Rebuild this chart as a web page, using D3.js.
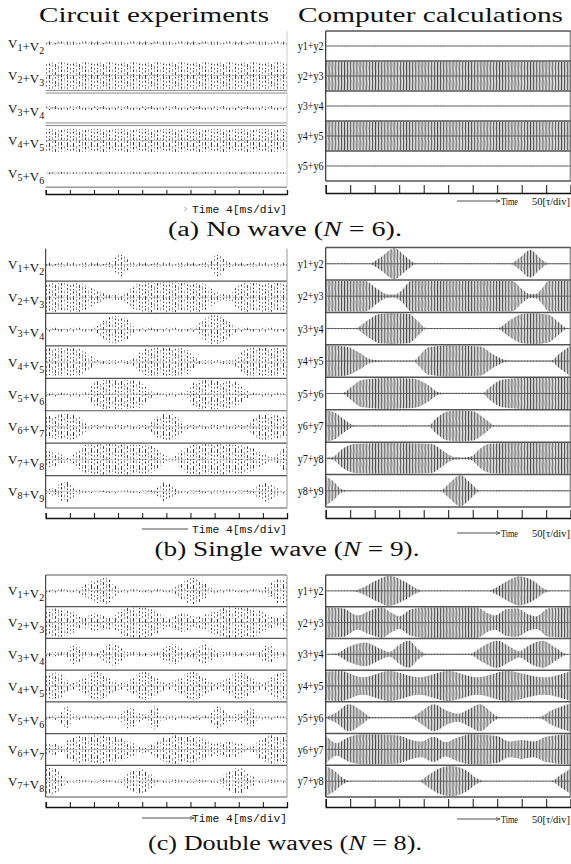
<!DOCTYPE html>
<html><head><meta charset="utf-8">
<script src="https://cdn.jsdelivr.net/npm/d3@7"></script>
<style>
body{margin:0;background:#fff}svg{display:block}
.serif{font-family:'Liberation Serif','Times New Roman',serif}
.mono{font-family:'Liberation Mono','Courier New',monospace}
</style>
</head><body>
<script>
// ---------------- DATA ----------------
const ticks = d3.range(0, 11); // 10 divisions per trace
const titles = ["Circuit experiments", "Computer calculations"];
const captions = [["(a) No wave (", "N", " = 6)."], ["(b) Single wave (", "N", " = 9)."], ["(c) Double waves (", "N", " = 8)."]];
const timeCirc = "Time 4[ms/div]";
const timeCalc = ["Time", "50[τ/div]"];

const labelsA_circ = ["V1+V2","V2+V3","V3+V4","V4+V5","V5+V6"];
const labelsA_calc = ["y1+y2","y2+y3","y3+y4","y4+y5","y5+y6"];
const labelsB_circ = ["V1+V2","V2+V3","V3+V4","V4+V5","V5+V6","V6+V7","V7+V8","V8+V9"];
const labelsB_calc = ["y1+y2","y2+y3","y3+y4","y4+y5","y5+y6","y6+y7","y7+y8","y8+y9"];
const labelsC_circ = ["V1+V2","V2+V3","V3+V4","V4+V5","V5+V6","V6+V7","V7+V8"];
const labelsC_calc = ["y1+y2","y2+y3","y3+y4","y4+y5","y5+y6","y6+y7","y7+y8"];

// envelopes: [time in div, amplitude as fraction of half row height]
const envA_circ = [
  [[0,.1],[10,.1]],
  [[0,.82],[10,.82]],
  [[0,.12],[10,.12]],
  [[0,.7],[10,.7]],
  [[0,.08],[10,.08]]
];
const envA_calc = [
  [[0,.02],[10,.02]],
  [[0,.95],[10,.95]],
  [[0,.02],[10,.02]],
  [[0,.95],[10,.95]],
  [[0,.02],[10,.02]]
];
const envB_circ = [
  [[0,.12],[2.6,.12],[2.85,.4],[3.1,.75],[3.35,.4],[3.55,.12],[6.6,.12],[6.9,.4],[7.15,.75],[7.4,.4],[7.65,.12],[10,.12]],
  [[0,.9],[1.4,.9],[1.9,.55],[2.5,.2],[2.9,.15],[3.3,.3],[3.8,.85],[4.2,.92],[6.4,.9],[6.9,.5],[7.3,.2],[7.6,.2],[7.9,.6],[8.2,.9],[10,.9]],
  [[0,.12],[2.0,.12],[2.4,.55],[2.8,.85],[3.3,.7],[3.75,.12],[6.1,.12],[6.5,.55],[6.95,.9],[7.5,.6],[8.0,.12],[10,.12]],
  [[0,.85],[1.3,.85],[1.8,.45],[2.2,.12],[3.5,.12],[3.9,.6],[4.3,.88],[5.7,.85],[6.1,.45],[6.5,.12],[7.7,.12],[8.1,.6],[8.4,.88],[10,.85]],
  [[0,.12],[1.6,.12],[2.1,.8],[2.5,.9],[3.8,.85],[4.2,.4],[4.5,.12],[5.8,.12],[6.2,.8],[6.6,.9],[7.8,.8],[8.2,.4],[8.5,.12],[10,.12]],
  [[0,.6],[0.4,.75],[0.9,.8],[1.4,.6],[1.85,.12],[4.2,.12],[4.6,.6],[5.0,.85],[5.4,.7],[5.85,.12],[8.3,.12],[8.7,.65],[9.1,.8],[9.6,.7],[10,.6]],
  [[0,.5],[0.5,.4],[1.0,.15],[1.3,.5],[1.7,.9],[2.5,.95],[4.3,.85],[4.8,.4],[5.25,.12],[5.6,.5],[6.0,.9],[7,.95],[8.4,.8],[9.0,.35],[9.4,.12],[9.8,.6],[10,.8]],
  [[0,.1],[0.4,.3],[0.85,.65],[1.3,.15],[1.6,.08],[4.5,.1],[4.7,.35],[4.95,.6],[5.3,.3],[5.6,.1],[8.5,.1],[8.8,.4],[9.1,.6],[9.5,.3],[9.8,.1],[10,.1]]
];
const envB_calc = [
  [[0,.03],[1.8,.03],[2.2,.35],[2.8,.95],[3.3,.4],[3.7,.03],[7.55,.03],[7.9,.35],[8.35,.85],[8.75,.35],[9.1,.03],[10,.03]],
  [[0,.95],[1.6,.95],[2.1,.45],[2.5,.12],[2.8,.1],[3.1,.35],[3.5,.95],[7.6,.95],[8.0,.45],[8.35,.12],[8.6,.15],[8.85,.5],[9.1,.95],[10,.95]],
  [[0,.03],[1.2,.03],[1.7,.5],[2.2,.9],[2.7,.95],[3.4,.9],[3.8,.4],[4.1,.03],[7.0,.03],[7.5,.5],[8.0,.9],[8.5,.95],[9.1,.85],[9.5,.4],[9.85,.03],[10,.03]],
  [[0,.95],[0.8,.9],[1.4,.5],[1.85,.1],[2.3,.04],[3.6,.04],[3.8,.3],[4.2,.85],[5.0,.95],[6.3,.9],[6.8,.45],[7.3,.08],[7.6,.04],[9.2,.04],[9.5,.4],[10,.95]],
  [[0,.03],[0.7,.03],[1.0,.35],[1.5,.85],[2.5,.95],[3.6,.9],[4.2,.5],[4.6,.08],[4.9,.04],[6.4,.04],[6.7,.4],[7.2,.85],[8.0,.95],[10,.95]],
  [[0,.95],[0.4,.8],[0.8,.35],[1.2,.03],[4.2,.03],[4.5,.45],[5.0,.9],[5.5,.95],[6.0,.9],[6.5,.45],[6.9,.03],[10,.03]],
  [[0,.04],[0.3,.1],[0.7,.6],[1.2,.9],[2.5,.95],[4.3,.9],[4.8,.45],[5.2,.1],[5.6,.05],[5.95,.12],[6.3,.6],[6.7,.9],[8,.95],[10,.95]],
  [[0,.9],[0.3,.6],[0.65,.1],[0.9,.03],[4.7,.03],[5.0,.4],[5.5,.95],[5.9,.5],[6.3,.03],[10,.03]]
];
const envC_circ = [
  [[0,.1],[1.3,.1],[1.7,.45],[2.2,.8],[2.5,.85],[2.9,.3],[3.1,.1],[5.2,.1],[5.6,.5],[6.1,.85],[6.5,.6],[6.9,.15],[7.2,.1],[8.9,.1],[9.3,.45],[9.7,.8],[10,.7]],
  [[0,.8],[0.6,.9],[1.2,.6],[1.5,.3],[2.0,.6],[2.5,.4],[2.8,.4],[3.2,.9],[4.0,.95],[4.6,.7],[5.1,.3],[5.7,.6],[6.3,.35],[6.7,.55],[7.5,.95],[8.6,.9],[9.2,.5],[9.5,.3],[10,.7]],
  [[0,.12],[0.8,.15],[1.2,.65],[1.7,.15],[2.1,.12],[2.3,.3],[2.85,.75],[3.4,.15],[4.6,.12],[4.9,.4],[5.3,.65],[5.8,.25],[6.15,.3],[6.65,.65],[7.2,.15],[8.7,.12],[9.2,.6],[9.7,.15],[10,.12]],
  [[0,.7],[0.45,.85],[1.1,.2],[2.1,.9],[3.2,.2],[4.05,.9],[5.1,.2],[6.1,.9],[7.1,.2],[8.0,.85],[9.0,.2],[9.7,.85],[10,.8]],
  [[0,.12],[0.5,.15],[0.85,.7],[1.2,.15],[3.0,.12],[3.45,.7],[3.9,.25],[4.15,.2],[4.5,.75],[4.9,.15],[6.7,.15],[7.15,.7],[7.6,.2],[8.05,.25],[8.5,.65],[8.9,.12],[10,.12]],
  [[0,.3],[0.4,.35],[0.7,.2],[1.0,.7],[1.9,.9],[3.0,.75],[3.7,.35],[4.2,.2],[4.8,.7],[5.4,.9],[6.4,.75],[7.0,.4],[7.6,.5],[8.0,.45],[8.4,.15],[8.8,.5],[9.4,.9],[10,.85]],
  [[0,.8],[0.35,.85],[0.7,.35],[1.0,.08],[3.1,.1],[3.4,.45],[3.9,.8],[4.4,.4],[4.7,.1],[7.1,.1],[7.5,.5],[8.0,.85],[8.5,.4],[8.8,.1],[10,.1]]
];
const envC_calc = [
  [[0,.02],[1.1,.02],[1.5,.2],[2.0,.6],[2.6,.95],[3.2,.6],[3.7,.15],[4.0,.02],[6.6,.02],[7.0,.25],[7.5,.7],[7.9,.92],[8.5,.6],[8.9,.15],[9.2,.02],[10,.02]],
  [[0,.95],[0.7,.9],[1.3,.45],[1.8,.75],[2.3,.95],[2.7,.6],[3.0,.4],[3.5,.85],[4.0,.95],[6.2,.95],[6.6,.6],[6.9,.45],[7.4,.85],[7.8,.9],[8.3,.5],[8.6,.4],[9.1,.9],[10,.95]],
  [[0,.02],[0.4,.05],[0.9,.45],[1.6,.75],[2.3,.3],[2.6,.15],[3.0,.6],[3.4,.85],[3.8,.3],[4.1,.04],[5.9,.04],[6.3,.4],[7.0,.85],[7.6,.4],[7.9,.2],[8.3,.55],[8.85,.85],[9.4,.4],[9.8,.04],[10,.02]],
  [[0,.9],[0.6,.95],[1.5,.55],[2.6,.95],[3.8,.55],[5.0,.95],[6.2,.55],[7.4,.95],[8.9,.55],[10,.95]],
  [[0,.04],[0.4,.3],[0.95,.85],[1.5,.4],[1.85,.04],[3.5,.04],[3.9,.4],[4.4,.85],[5.0,.4],[5.4,.25],[5.8,.5],[6.3,.85],[6.8,.3],[7.1,.04],[8.7,.04],[9.2,.45],[10,.9]],
  [[0,.9],[0.2,.6],[0.45,.4],[0.9,.75],[1.6,.95],[2.9,.9],[3.5,.6],[3.9,.5],[4.4,.8],[4.9,.45],[5.3,.7],[6.0,.95],[7.0,.85],[7.5,.5],[8.0,.6],[8.5,.5],[9.0,.8],[10,.95]],
  [[0,.95],[0.3,.7],[0.75,.15],[1.0,.02],[3.8,.02],[4.2,.4],[4.7,.85],[5.1,.95],[5.7,.7],[6.2,.15],[6.5,.02],[9.2,.02],[9.6,.4],[10,.8]]
];

// ---------------- DRAW ----------------
const svg = d3.select("body").append("svg").attr("width", 571).attr("height", 864);
const defs = svg.append("defs");

// texture of simulated traces (dense oscillation)
const pc = defs.append("pattern").attr("id","hatchCalc").attr("patternUnits","userSpaceOnUse")
  .attr("width",3.1).attr("height",10);
pc.append("rect").attr("width",3.1).attr("height",10).attr("fill","#e2e2e2");
pc.append("line").attr("x1",1.3).attr("y1",0).attr("x2",2.9).attr("y2",10).attr("stroke","#a8a8a8").attr("stroke-width",0.6);
pc.append("line").attr("x1",0.5).attr("x2",0.5).attr("y1",0).attr("y2",10).attr("stroke","#333").attr("stroke-width",0.8);

// texture of oscilloscope traces (sparse dashes)
const pe = defs.append("pattern").attr("id","hatchCirc").attr("patternUnits","userSpaceOnUse")
  .attr("width",24).attr("height",17);
[[1.5,"#222","4,1.5,2,2.5",0,0.9],[4.5,"#888","2,3,3,1",1,0.8],[7.5,"#333","3,2,1.5,2.5",2,0.9],[10.5,"#777","1.5,2,4,1",3,0.8],
 [13.5,"#222","2.5,2,3.5,1.5",5,0.9],[16.5,"#999","3,1.5,1,3",4,0.8],[19.5,"#333","5,1.5,1.5,2",1,0.9],[22.5,"#666","2,2,2,3",6,0.8]]
  .forEach(([x,c,da,off,w]) => pe.append("line").attr("x1",x).attr("x2",x).attr("y1",-3).attr("y2",20)
    .attr("stroke",c).attr("stroke-width",w).attr("stroke-dasharray",da).attr("stroke-dashoffset",off));

const panels = [
  {labels:labelsA_circ, env:envA_circ, kind:"circ", x0:45.7, x1:287, point:true, yr:[43,173], axisY:194, tick:4, frame:"a"},
  {labels:labelsA_calc, env:envA_calc, kind:"calc", x0:325.7, x1:570.7, yr:[31,181], axisY:193, tick:8},
  {labels:labelsB_circ, env:envB_circ, kind:"circ", x0:45.7, x1:287, yr:[248.6,508], axisY:518, tick:5},
  {labels:labelsB_calc, env:envB_calc, kind:"calc", x0:325.7, x1:570.7, yr:[247.5,507], axisY:518, tick:8},
  {labels:labelsC_circ, env:envC_circ, kind:"circ", x0:45.7, x1:287, yr:[575,797], axisY:807, tick:5, topLine:true},
  {labels:labelsC_calc, env:envC_calc, kind:"calc", x0:325.7, x1:570.7, yr:[575,797], axisY:807, tick:8}
];

function drawLabel(g, lab, x, y, kind) {
  if (kind === "circ") {
    const t = g.append("text").attr("class","serif").attr("x", x).attr("y", y).attr("dy","0.35em").attr("text-anchor","end")
      .attr("font-size",13).attr("fill","#111");
    lab.split("+").forEach((p, i) => {
      if (i > 0) t.append("tspan").text("+");
      t.append("tspan").text(p[0]);
      t.append("tspan").attr("font-size",10).attr("dy",3).text(p.slice(1));
      t.append("tspan").attr("dy",-3).text("");
    });
  } else {
    g.append("text").attr("class","serif").attr("x", x).attr("y", y).attr("dy","0.35em").attr("text-anchor","end")
      .attr("font-size",12).attr("fill","#111")
      .attr("textLength",26).attr("lengthAdjust","spacingAndGlyphs").text(lab);
  }
}

panels.forEach(cfg => {
  const g = svg.append("g");
  const x = d3.scaleLinear().domain([0, 10]).range([cfg.x0, cfg.x1]);
  let yc, half, bounds = [];
  if (cfg.point) {
    const s = d3.scalePoint().domain(cfg.labels).range(cfg.yr);
    yc = l => s(l); half = s.step() / 2;
  } else {
    const s = d3.scaleBand().domain(cfg.labels).range(cfg.yr);
    yc = l => s(l) + s.bandwidth() / 2; half = s.bandwidth() / 2;
    bounds = cfg.labels.map(l => s(l)).concat([cfg.yr[1]]);
  }
  // traces
  cfg.labels.forEach((lab, i) => {
    const c = yc(lab);
    const area = d3.area().curve(d3.curveMonotoneX)
      .x(d => x(d[0])).y0(d => c - d[1] * half).y1(d => c + d[1] * half);
    g.append("path").attr("d", area(cfg.env[i]))
      .attr("fill", cfg.kind === "calc" ? "url(#hatchCalc)" : "url(#hatchCirc)");
    if (cfg.kind === "calc") {
      g.append("line").attr("x1",cfg.x0+1).attr("x2",cfg.x1-1).attr("y1",c).attr("y2",c)
        .attr("stroke","#444").attr("stroke-width",0.7);
    } else {
      g.append("line").attr("x1",cfg.x0+1).attr("x2",cfg.x1-1).attr("y1",c).attr("y2",c)
        .attr("stroke","#999").attr("stroke-width",0.9).attr("stroke-dasharray","2,1.2");
    }
    drawLabel(g, lab, cfg.kind === "calc" ? cfg.x0 - 2 : cfg.x0 - 1.5, c, cfg.kind);
  });
  // frames
  if (cfg.kind === "calc") {
    bounds.forEach(b => g.append("line").attr("x1",cfg.x0).attr("x2",cfg.x1).attr("y1",b).attr("y2",b)
      .attr("stroke","#555").attr("stroke-width",1.5));
    g.append("line").attr("x1",cfg.x0).attr("x2",cfg.x0).attr("y1",cfg.yr[0]).attr("y2",cfg.yr[1]).attr("stroke","#333").attr("stroke-width",1.2);
    g.append("line").attr("x1",cfg.x1-0.5).attr("x2",cfg.x1-0.5).attr("y1",cfg.yr[0]).attr("y2",cfg.yr[1]).attr("stroke","#666").attr("stroke-width",1);
  } else if (cfg.frame === "a") {
    [1, 2].forEach(i => {
      const m = (yc(cfg.labels[i]) + yc(cfg.labels[i+1])) / 2;
      [-1.3, 1.3].forEach(o => g.append("line").attr("x1",cfg.x0).attr("x2",cfg.x1).attr("y1",m+o).attr("y2",m+o)
        .attr("stroke","#888").attr("stroke-width",1));
    });
    const bl = cfg.yr[1] + half - 2;
    g.append("line").attr("x1",cfg.x0).attr("x2",cfg.x1).attr("y1",bl).attr("y2",bl).attr("stroke","#999").attr("stroke-width",1.3);
    g.append("line").attr("x1",cfg.x1).attr("x2",cfg.x1).attr("y1",cfg.yr[0]-12).attr("y2",bl).attr("stroke","#ccc").attr("stroke-width",1);
  } else {
    (cfg.topLine ? bounds : bounds.slice(1)).forEach(b => g.append("line").attr("x1",cfg.x0).attr("x2",cfg.x1).attr("y1",b).attr("y2",b)
      .attr("stroke","#555").attr("stroke-width",1.2));
    g.append("line").attr("x1",cfg.x0).attr("x2",cfg.x0).attr("y1",cfg.yr[0]).attr("y2",cfg.yr[1]).attr("stroke","#222").attr("stroke-width",1);
    g.append("line").attr("x1",cfg.x1).attr("x2",cfg.x1).attr("y1",cfg.yr[0]).attr("y2",cfg.yr[1]).attr("stroke","#999").attr("stroke-width",1);
  }
  // time axis
  const ax = d3.axisTop(x).tickValues(ticks).tickSize(cfg.tick).tickSizeOuter(cfg.tick).tickFormat("");
  const ga = svg.append("g").attr("transform", `translate(0,${cfg.axisY})`).call(ax);
  ga.select(".domain").attr("stroke","#111").attr("stroke-width",1.3);
  ga.selectAll(".tick line").attr("stroke","#111").attr("stroke-width",1);
});

// time labels
defs.append("marker").attr("id","arr").attr("viewBox","0 0 6 6").attr("refX",6).attr("refY",3)
  .attr("markerWidth",5).attr("markerHeight",5).attr("orient","auto")
  .append("path").attr("d","M0,0.5 L6,3 L0,5.5").attr("fill","none").attr("stroke","#222").attr("stroke-width",0.8);
const circTimeY = [209, 529, 818];
circTimeY.forEach((y, i) => {
  if (i > 0) svg.append("line").attr("x1",142).attr("x2",i === 2 ? 194 : 188).attr("y1",y).attr("y2",y)
    .attr("stroke","#222").attr("stroke-width",0.8).attr("marker-end", i === 2 ? "url(#arr)" : null);
  else svg.append("path").attr("d",`M184,${y-2} L187,${y} L184,${y+2}`).attr("fill","none").attr("stroke","#aaa").attr("stroke-width",0.8);
  svg.append("text").attr("class","mono").attr("x",287).attr("y",y+4).attr("text-anchor","end")
    .attr("font-size",11.3).attr("fill","#111").text(timeCirc);
});
const calcTimeY = [201, 533, 819];
calcTimeY.forEach(y => {
  svg.append("line").attr("x1",457).attr("x2",500).attr("y1",y).attr("y2",y)
    .attr("stroke","#222").attr("stroke-width",0.8).attr("marker-end","url(#arr)");
  svg.append("text").attr("class","serif").attr("x",501).attr("y",y+4).attr("font-size",11)
    .attr("textLength",17).attr("lengthAdjust","spacingAndGlyphs").attr("fill","#111").text(timeCalc[0]);
  svg.append("text").attr("class","serif").attr("x",532).attr("y",y+4).attr("font-size",11)
    .attr("textLength",38).attr("lengthAdjust","spacingAndGlyphs").attr("fill","#111").text(timeCalc[1]);
});

// titles
[[154, 230], [430.5, 265]].forEach(([cx, w], i) => {
  svg.append("text").attr("class","serif").attr("x", cx).attr("y", 22).attr("text-anchor","middle")
    .attr("font-size",21).attr("fill","#111")
    .attr("textLength", w).attr("lengthAdjust","spacingAndGlyphs").text(titles[i]);
});
// captions
[[285, 236, 234], [287, 556, 265], [285, 850, 274]].forEach(([cx, y, w], i) => {
  const t = svg.append("text").attr("class","serif").attr("x", cx).attr("y", y).attr("text-anchor","middle")
    .attr("font-size",20).attr("fill","#111")
    .attr("textLength", w).attr("lengthAdjust","spacingAndGlyphs");
  t.append("tspan").text(captions[i][0]);
  t.append("tspan").attr("font-style","italic").text(captions[i][1]);
  t.append("tspan").text(captions[i][2]);
});
</script>
</body></html>
